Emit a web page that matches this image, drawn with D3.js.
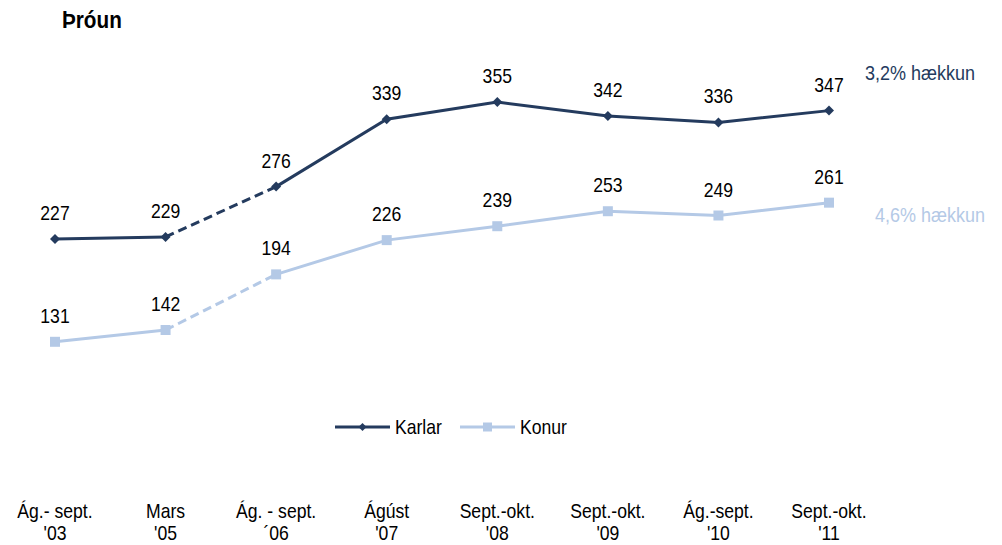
<!DOCTYPE html>
<html>
<head>
<meta charset="utf-8">
<script src="https://cdn.jsdelivr.net/npm/d3@7"></script>
<style>
  body { margin: 0; background: #fff; }
  text { font-family: "Liberation Sans", Arial, sans-serif; }
</style>
</head>
<body>
<div id="wrapper"></div>
<script>
const periods = [
  ["Ág.- sept.", "'03"],
  ["Mars", "'05"],
  ["Ág. - sept.", "´06"],
  ["Ágúst", "'07"],
  ["Sept.-okt.", "'08"],
  ["Sept.-okt.", "'09"],
  ["Ág.-sept.", "'10"],
  ["Sept.-okt.", "'11"],
];
const karlar = [227, 229, 276, 339, 355, 342, 336, 347];
const konur = [131, 142, 194, 226, 239, 253, 249, 261];
const seriesNames = ["Karlar", "Konur"];
const growthLabels = ["3,2% hækkun", "4,6% hækkun"];
const dashedFrom = 1; // segment between index 1 and 2 is dashed

const colors = ["#243b5e", "#b4c9e6"];
const squeeze = 0.88; // the original font is a bit narrow

// text that is squeezed horizontally around its anchor point
function addText(parent, x, y, str, opts = {}) {
  const g = parent.append("g").attr("transform", `translate(${x},${y})`);
  const t = g
    .append("text")
    .attr("transform", `scale(${opts.sx || squeeze},1)`)
    .attr("text-anchor", opts.anchor || "start")
    .attr("font-size", opts.size || 20)
    .attr("font-weight", opts.weight || "normal")
    .attr("fill", opts.fill || "#000")
    .text(str);
  return t;
}

function drawChart() {
  const dimensions = {
    width: 1002,
    height: 545,
  };

  const wrapper = d3
    .select("#wrapper")
    .append("svg")
    .attr("width", dimensions.width)
    .attr("height", dimensions.height);

  const xScale = d3
    .scalePoint()
    .domain(d3.range(periods.length))
    .range([55, 829]);

  const yScale = d3.scaleLinear().domain([0, 400]).range([482, 53.9]);

  addText(wrapper, 62, 28, "Þróun", { size: 23, weight: "bold", sx: 0.9 });

  const data = [karlar, konur];
  const line = d3
    .line()
    .x((d) => xScale(d.i))
    .y((d) => yScale(d.v));

  data.forEach((values, s) => {
    const pts = values.map((v, i) => ({ v, i }));
    const g = wrapper.append("g");
    g.append("path")
      .attr("d", line(pts.slice(0, dashedFrom + 1)))
      .attr("fill", "none")
      .attr("stroke", colors[s])
      .attr("stroke-width", 3);
    g.append("path")
      .attr("d", line(pts.slice(dashedFrom, dashedFrom + 2)))
      .attr("fill", "none")
      .attr("stroke", colors[s])
      .attr("stroke-width", 3)
      .attr("stroke-dasharray", "9,5");
    g.append("path")
      .attr("d", line(pts.slice(dashedFrom + 1)))
      .attr("fill", "none")
      .attr("stroke", colors[s])
      .attr("stroke-width", 3);

    g.selectAll("path.marker")
      .data(pts)
      .join("path")
      .attr("class", "marker")
      .attr("transform", (d) => `translate(${xScale(d.i)},${yScale(d.v)})`)
      .attr("d", s === 0 ? "M0,-5L5,0L0,5L-5,0Z" : "M-5,-5H5V5H-5Z")
      .attr("fill", colors[s]);

    pts.forEach((d) => {
      addText(g, xScale(d.i), yScale(d.v) - 19, d.v, { anchor: "middle" });
    });
  });

  // growth annotations
  addText(wrapper, 865, 80, growthLabels[0], { fill: colors[0], sx: 0.9 });
  addText(wrapper, 875, 222, growthLabels[1], { fill: colors[1], sx: 0.9 });

  // legend
  const legend = wrapper.append("g");
  const legendX = [335, 460];
  seriesNames.forEach((name, s) => {
    const lg = legend.append("g").attr("transform", `translate(${legendX[s]},427)`);
    lg.append("line")
      .attr("x1", 0)
      .attr("x2", 55)
      .attr("stroke", colors[s])
      .attr("stroke-width", 3);
    lg.append("path")
      .attr("transform", "translate(27.5,0)")
      .attr("d", s === 0 ? "M0,-4L4,0L0,4L-4,0Z" : "M-4.5,-4.5H4.5V4.5H-4.5Z")
      .attr("fill", colors[s]);
    addText(lg, 60, 7, name);
  });

  // x axis labels, two lines each
  const xAxis = wrapper.append("g");
  periods.forEach((p, i) => {
    addText(xAxis, xScale(i), 518, p[0], { anchor: "middle" });
    addText(xAxis, xScale(i), 540, p[1], { anchor: "middle" });
  });
}

drawChart();
</script>
</body>
</html>
